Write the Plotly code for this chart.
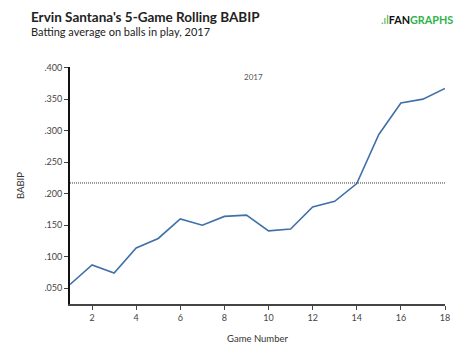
import plotly.graph_objects as go

games = list(range(1, 19))
babip = [0.056, 0.087, 0.074, 0.114, 0.129, 0.160, 0.150, 0.164, 0.166,
         0.141, 0.144, 0.179, 0.188, 0.216, 0.294, 0.344, 0.350, 0.367]
season_avg = 0.217
y_ticks = [0.05, 0.10, 0.15, 0.20, 0.25, 0.30, 0.35, 0.40]
y_ticklabels = [("%.3f" % v)[1:] for v in y_ticks]
x_ticks = [2, 4, 6, 8, 10, 12, 14, 16, 18]

# page has an 8px body margin; plot area in figure px: x 53..437, y 59..296
L, R, T, B = 53, 437, 59, 296
def px(xp):
    return (xp - L) / (R - L)
def py(yp):
    return (B - yp) / (B - T)

fig = go.Figure()
fig.add_trace(go.Scatter(x=games, y=babip, mode="lines",
                         line=dict(color="#4170a8", width=1.6),
                         hoverinfo="skip", showlegend=False))
fig.add_trace(go.Scatter(x=[games[0], games[-1]], y=[season_avg, season_avg],
                         mode="lines", line=dict(color="#333333", width=1, dash="1px,1px"),
                         hoverinfo="skip", showlegend=False))

fig.update_layout(
    width=476, height=355,
    margin=dict(l=L, r=476 - R, t=T, b=355 - B),
    paper_bgcolor="white", plot_bgcolor="white",
    font=dict(family="Lato, sans-serif", color="#333333"),
    xaxis=dict(range=[1, 18], tickvals=x_ticks, showgrid=False, zeroline=False,
               showline=True, linecolor="#444444", linewidth=2,
               ticks="outside", ticklen=4, tickcolor="#444444",
               tickfont=dict(size=9, color="#444444"),
               title=dict(text="Game Number", font=dict(size=9.5, color="#333333"), standoff=14)),
    yaxis=dict(range=[0.025, 0.401], tickvals=y_ticks, ticktext=y_ticklabels,
               showgrid=False, zeroline=False,
               showline=True, linecolor="#111111", linewidth=2,
               ticks="outside", ticklen=4, tickcolor="#444444",
               tickfont=dict(size=9, color="#444444"),
               title=dict(text="BABIP", font=dict(size=9.5, color="#333333"), standoff=18)),
    annotations=[
        dict(text="<b>Ervin Santana's 5-Game Rolling BABIP</b>", xref="paper", yref="paper",
             x=px(11), y=py(9), xanchor="left", yanchor="middle", showarrow=False,
             font=dict(size=13.5, color="#222222", family="Lato, sans-serif")),
        dict(text="Batting average on balls in play, 2017", xref="paper", yref="paper",
             x=px(11), y=py(23), xanchor="left", yanchor="middle", showarrow=False,
             font=dict(size=11, color="#222222", family="Lato, sans-serif")),
        dict(text="<span style='color:#2fb34a'>.ıl</span><b>FAN</b><b style='color:#2fb34a'>GRAPHS</b>",
             xref="paper", yref="paper", x=px(447), y=py(12),
             xanchor="right", yanchor="middle", showarrow=False,
             font=dict(size=10.8, color="#111111", family="Lato, sans-serif")),
        dict(text="2017", xref="x", yref="paper", x=9.3, y=py(69),
             xanchor="center", yanchor="middle", showarrow=False,
             font=dict(size=8, color="#555555")),
    ],
)

fig.write_html("out.html")
